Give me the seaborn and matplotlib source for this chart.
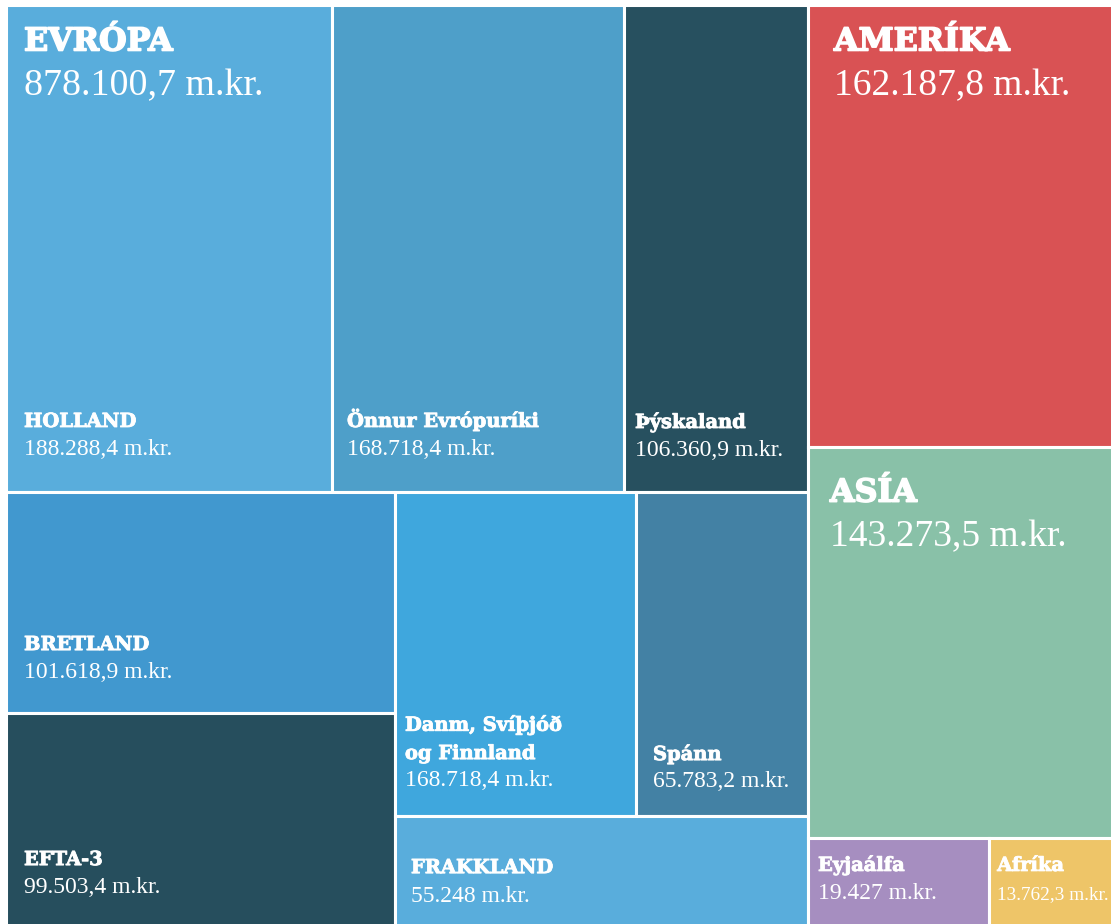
import matplotlib
matplotlib.use("Agg")
from matplotlib import pyplot as plt
from matplotlib.patches import Rectangle
import matplotlib.patheffects as pe
import seaborn as sns

# regions (top level of the treemap)
regions = ['EVRÓPA', 'AMERÍKA', 'ASÍA', 'Eyjaálfa', 'Afríka']
region_values = [878100.7, 162187.8, 143273.5, 19427.0, 13762.3]
region_labels = ['878.100,7 m.kr.', '162.187,8 m.kr.', '143.273,5 m.kr.',
                 '19.427 m.kr.', '13.762,3 m.kr.']

# countries inside Europe
europe_names = ['HOLLAND', 'Önnur Evrópuríki', 'Þýskaland', 'BRETLAND', 'EFTA-3',
                'Danm, Svíþjóð\nog Finnland', 'Spánn', 'FRAKKLAND']
# box sizes; the Danm/Svíþjóð box is drawn smaller than its printed figure,
# its size is the rest of the Europe total
europe_values = [188288.4, 168718.4, 106360.9, 101618.9, 99503.4, 92580.5, 65783.2, 55248.0]
europe_labels = ['188.288,4 m.kr.', '168.718,4 m.kr.', '106.360,9 m.kr.', '101.618,9 m.kr.',
                 '99.503,4 m.kr.', '168.718,4 m.kr.', '65.783,2 m.kr.', '55.248 m.kr.']

colors = {
    'HOLLAND': '#59addc', 'Önnur Evrópuríki': '#4e9fc9', 'Þýskaland': '#27505f',
    'BRETLAND': '#4198cf', 'EFTA-3': '#264e5d', 'Danm, Svíþjóð\nog Finnland': '#3fa7dd',
    'Spánn': '#4381a4', 'FRAKKLAND': '#59addc',
    'AMERÍKA': '#d95254', 'ASÍA': '#89c1a8', 'Eyjaálfa': '#a68ec0', 'Afríka': '#eec568',
}

# text placement inside each box: (dx, label baseline, value baseline, label size, value size)
text_pos = {
    'EVRÓPA': (18.5, 46, 91, 22.8, 27.3),
    'HOLLAND': (18.5, 422.5, 450.5, 14, 17),
    'Önnur Evrópuríki': (15.4, 422.5, 450.5, 14, 17),
    'Þýskaland': (11.2, 423.5, 451.5, 14, 17),
    'BRETLAND': (18.5, 158, 185.5, 14, 17),
    'EFTA-3': (18.5, 152.5, 180.8, 14, 17),
    'Danm, Svíþjóð\nog Finnland': (10.3, 267, 293.7, 14, 17),
    'Spánn': (16.7, 268, 295, 14, 17),
    'FRAKKLAND': (16.3, 57.5, 86, 14, 17),
    'AMERÍKA': (26, 46, 91, 22.8, 27),
    'ASÍA': (22, 54.6, 99, 22.8, 27),
    'Eyjaálfa': (10, 33, 61, 14, 17),
    'Afríka': (8, 33, 61, 14, 13.9),
}

W, H = 1111, 924
LABEL_FONT = ['DejaVu Serif']
VALUE_FONT = ['Liberation Serif', 'DejaVu Serif']


def slice_box(sizes, box, across):
    # split a box along x (across=True) or y in proportion to sizes
    x, y, w, h = box
    total = sum(sizes)
    out = []
    for s in sizes:
        if across:
            dw = w * s / total
            out.append((x, y, dw, h))
            x += dw
        else:
            dh = h * s / total
            out.append((x, y, w, dh))
            y += dh
    return out


sns.set_theme(style='white')
fig = plt.figure(figsize=(W / 100, H / 100), dpi=100)
ax = fig.add_axes([0, 0, 1, 1])
ax.set_xlim(0, W)
ax.set_ylim(H, 0)
ax.axis('off')

# the treemap runs a little past the right and bottom edges of the picture
full = (5.5, 4.5, 1112, 924)
ev = dict(zip(europe_names, europe_values))

# top level: Europe | rest of the world
europe_box, world_box = slice_box([region_values[0], sum(region_values[1:])], full, True)
america_box, asia_box, oce_afr_box = slice_box(
    [region_values[1], region_values[2], region_values[3] + region_values[4]], world_box, False)
oce_box, afr_box = slice_box(region_values[3:], oce_afr_box, True)

# Europe: top row of three, bottom block
top_names = europe_names[:3]
bottom_names = europe_names[3:]
top_row, bottom_block = slice_box([sum(ev[n] for n in top_names),
                                   sum(ev[n] for n in bottom_names)], europe_box, False)
boxes = dict(zip(top_names, slice_box([ev[n] for n in top_names], top_row, True)))

uk_efta = ['BRETLAND', 'EFTA-3']
rest = ['Danm, Svíþjóð\nog Finnland', 'Spánn', 'FRAKKLAND']
left_col, right_block = slice_box([sum(ev[n] for n in uk_efta), sum(ev[n] for n in rest)],
                                  bottom_block, True)
boxes.update(zip(uk_efta, slice_box([ev[n] for n in uk_efta], left_col, False)))
nordic_spain, france = slice_box([ev[rest[0]] + ev[rest[1]], ev[rest[2]]], right_block, False)
boxes.update(zip(rest[:2], slice_box([ev[rest[0]], ev[rest[1]]], nordic_spain, True)))
boxes['FRAKKLAND'] = france
boxes['AMERÍKA'] = america_box
boxes['ASÍA'] = asia_box
boxes['Eyjaálfa'] = oce_box
boxes['Afríka'] = afr_box

for name, (x, y, w, h) in boxes.items():
    ax.add_patch(Rectangle((x, y), w, h, facecolor=colors[name], edgecolor='white',
                           linewidth=2.2, zorder=1))


def put_text(name, box, value_text):
    dx, ly, vy, ls, vs = text_pos[name]
    x0, y0 = box[0] + dx, box[1]
    lines = name.split('\n')
    heavy = [pe.withStroke(linewidth=0.6 if ls < 20 else 1.2, foreground='white')]
    for i, line in enumerate(lines):
        off = (len(lines) - 1 - i) * 28.3
        ax.text(x0, y0 + ly - off, line, color='white', fontsize=ls, fontweight='bold',
                family=LABEL_FONT, va='baseline', ha='left', zorder=3, clip_on=True,
                path_effects=heavy)
    ax.text(x0, y0 + vy, value_text, color='white', fontsize=vs, family=VALUE_FONT,
            va='baseline', ha='left', zorder=3, clip_on=True)


put_text('EVRÓPA', europe_box, region_labels[0])
for name, lab in zip(europe_names, europe_labels):
    put_text(name, boxes[name], lab)
for name, lab in zip(regions[1:], region_labels[1:]):
    put_text(name, boxes[name], lab)

fig.savefig('out.png', dpi=100, facecolor='white')
